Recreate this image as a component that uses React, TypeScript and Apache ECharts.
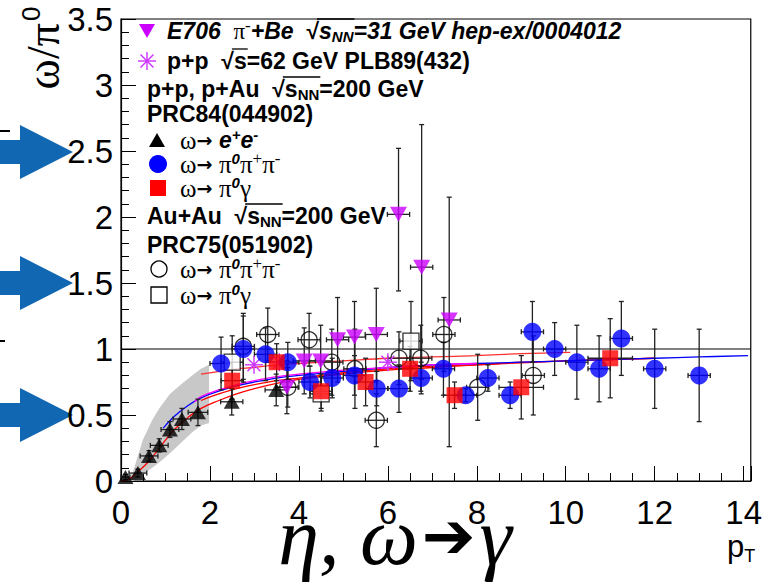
import React, { useEffect, useRef } from 'react';
import * as echarts from 'echarts';

// ---------- data ----------
const xTickValues = [0, 2, 4, 6, 8, 10, 12, 14];
const yTickValues = [0, 0.5, 1, 1.5, 2, 2.5, 3, 3.5];

// [pT, ratio, ±ex, -ey, +ey]
const ppEE = [
  [0.1, 0.03, 0.1, 0.02, 0.02],
  [0.38, 0.06, 0.2, 0.03, 0.03],
  [0.63, 0.19, 0.2, 0.04, 0.04],
  [0.86, 0.27, 0.2, 0.05, 0.05],
  [1.1, 0.39, 0.2, 0.06, 0.06],
  [1.37, 0.47, 0.2, 0.08, 0.08],
  [1.73, 0.52, 0.22, 0.1, 0.1],
  [2.49, 0.6, 0.25, 0.1, 0.1],
  [3.49, 0.69, 0.25, 0.12, 0.12],
];
const pp3pi = [
  [2.25, 0.89, 0.25, 0.2, 0.2],
  [2.75, 1.0, 0.25, 0.25, 0.25],
  [3.25, 0.96, 0.25, 0.2, 0.2],
  [3.75, 0.9, 0.25, 0.15, 0.15],
  [4.25, 0.75, 0.25, 0.12, 0.12],
  [4.75, 0.78, 0.25, 0.15, 0.15],
  [5.25, 0.8, 0.25, 0.15, 0.15],
  [5.75, 0.7, 0.25, 0.13, 0.13],
  [6.25, 0.7, 0.25, 0.18, 0.18],
  [6.75, 0.78, 0.25, 0.12, 0.12],
  [7.25, 0.85, 0.25, 0.2, 0.2],
  [7.75, 0.65, 0.25, 0.05, 0.05],
  [8.25, 0.78, 0.25, 0.1, 0.1],
  [8.75, 0.65, 0.25, 0.1, 0.1],
  [9.25, 1.13, 0.25, 0.23, 0.23],
  [9.75, 1.0, 0.25, 0.2, 0.2],
  [10.25, 0.9, 0.25, 0.28, 0.28],
  [10.75, 0.85, 0.25, 0.25, 0.25],
  [11.25, 1.08, 0.25, 0.28, 0.28],
  [12.0, 0.85, 0.25, 0.3, 0.3],
  [13.0, 0.8, 0.25, 0.35, 0.35],
];
const ppGamma = [
  [2.5, 0.76, 0.25, 0.14, 0.14],
  [3.5, 0.9, 0.25, 0.14, 0.14],
  [4.5, 0.68, 0.25, 0.13, 0.13],
  [5.5, 0.75, 0.25, 0.18, 0.18],
  [6.5, 0.85, 0.25, 0.17, 0.17],
  [7.5, 0.65, 0.25, 0.1, 0.1],
  [9.0, 0.71, 0.5, 0.24, 0.24],
  [11.0, 0.93, 0.5, 0.3, 0.3],
];
const e706 = [
  [3.73, 0.71, 0.25, 0.2, 0.2],
  [4.12, 0.91, 0.25, 0.25, 0.25],
  [4.49, 0.91, 0.25, 0.27, 0.27],
  [4.87, 1.07, 0.25, 0.32, 0.32],
  [5.25, 1.09, 0.25, 0.27, 0.27],
  [5.74, 1.11, 0.25, 0.35, 0.35],
  [6.24, 2.02, 0.25, 0.58, 0.5],
  [6.76, 1.62, 0.25, 0.85, 1.08],
  [7.38, 1.22, 0.25, 0.96, 0.93],
];
const pp62 = [
  [2.99, 0.88],
  [3.56, 0.9],
  [6.0, 0.9],
];
const auau3pi = [
  [2.75, 1.02, 0.25, 0.25, 0.25],
  [3.3, 1.11, 0.25, 0.2, 0.2],
  [3.75, 0.71, 0.25, 0.15, 0.15],
  [4.23, 1.07, 0.25, 0.2, 0.2],
  [4.74, 0.9, 0.25, 0.25, 0.25],
  [5.26, 0.85, 0.25, 0.3, 0.3],
  [5.74, 0.46, 0.25, 0.2, 0.2],
  [6.25, 0.93, 0.25, 0.2, 0.2],
  [6.74, 0.93, 0.25, 0.25, 0.25],
  [7.26, 1.11, 0.25, 0.28, 0.28],
  [8.02, 0.71, 0.25, 0.25, 0.25],
  [9.27, 0.8, 0.25, 0.3, 0.3],
];
const auauGamma = [
  [2.5, 0.9, 0.25, 0.2, 0.2],
  [4.5, 0.66, 0.25, 0.13, 0.13],
  [6.52, 1.06, 0.25, 0.3, 0.3],
];

// systematic band (ω→e+e-)
const bandX = [0.1, 0.27, 0.49, 0.7, 0.86, 1.1, 1.38, 1.6, 1.8, 1.98];
const bandHi = [0.0, 0.07, 0.31, 0.46, 0.55, 0.66, 0.74, 0.8, 0.85, 0.88];
const bandLo = [0.0, 0.0, 0.05, 0.1, 0.14, 0.21, 0.3, 0.37, 0.42, 0.44];

// fit curves
const fitRedMainX = [0, 0.1, 0.2, 0.3, 0.45, 0.6, 0.8, 1.0, 1.2, 1.5, 1.8, 2.2, 2.6, 3.0, 3.5, 4, 5, 6, 7, 8, 9, 10, 11, 12];
const fitRedMainY = [0, 0.005, 0.02, 0.045, 0.09, 0.14, 0.22, 0.31, 0.39, 0.48, 0.55, 0.61, 0.66, 0.7, 0.74, 0.77, 0.81, 0.84, 0.86, 0.88, 0.895, 0.91, 0.92, 0.93];
const fitBlueX = [0.95, 1.2, 1.5, 1.8, 2.2, 2.6, 3, 3.5, 4, 5, 6, 7, 8, 9, 10, 11, 12, 13, 14.1];
const fitBlueY = [0.4, 0.49, 0.57, 0.63, 0.68, 0.72, 0.75, 0.78, 0.8, 0.83, 0.86, 0.88, 0.89, 0.9, 0.91, 0.92, 0.93, 0.94, 0.95];
const fitMagentaX = [1.65, 1.8, 2.2, 2.6, 3, 3.5, 4, 5, 6, 7, 8];
const fitMagentaY = [0.6, 0.64, 0.69, 0.73, 0.76, 0.79, 0.81, 0.84, 0.86, 0.88, 0.89];
const fitRedMidX = [1.8, 2.2, 2.6, 3, 3.5, 4, 5, 6, 7, 8, 9, 10, 11, 12];
const fitRedMidY = [0.61, 0.66, 0.7, 0.73, 0.76, 0.78, 0.82, 0.85, 0.87, 0.88, 0.9, 0.91, 0.92, 0.93];
const fitRedUpX = [1.8, 2.2, 2.6, 3, 3.5, 4, 5, 6, 7, 8, 9, 10.1];
const fitRedUpY = [0.81, 0.83, 0.85, 0.86, 0.88, 0.89, 0.91, 0.93, 0.94, 0.95, 0.965, 0.975];

const unityLine = [[0, 1], [14.16, 1]];

const X_MAX = 14.16;

const zip = (xs: number[], ys: number[]) => xs.map((x, i) => [x, ys[i]]);

const errRender = (params: any, api: any) => {
  const x = api.value(0), y = api.value(1), ex = api.value(2), el = api.value(3), eh = api.value(4);
  const l = api.coord([x - ex, y]);
  const r = api.coord([x + ex, y]);
  const t = api.coord([x, y + eh]);
  const b = api.coord([x, y - el]);
  const cap = 2.5;
  const st = { stroke: '#222', lineWidth: 1.3 };
  const children: any[] = [];
  if (ex > 0) {
    children.push({ type: 'line', shape: { x1: l[0], y1: l[1], x2: r[0], y2: r[1] }, style: st });
    children.push({ type: 'line', shape: { x1: l[0], y1: l[1] - cap, x2: l[0], y2: l[1] + cap }, style: st });
    children.push({ type: 'line', shape: { x1: r[0], y1: r[1] - cap, x2: r[0], y2: r[1] + cap }, style: st });
  }
  if (el > 0 || eh > 0) {
    children.push({ type: 'line', shape: { x1: t[0], y1: t[1], x2: b[0], y2: b[1] }, style: st });
    children.push({ type: 'line', shape: { x1: t[0] - cap, y1: t[1], x2: t[0] + cap, y2: t[1] }, style: st });
    children.push({ type: 'line', shape: { x1: b[0] - cap, y1: b[1], x2: b[0] + cap, y2: b[1] }, style: st });
  }
  return { type: 'group', children };
};

const errSeries = (data: number[][]) => ({
  type: 'custom',
  renderItem: errRender,
  data,
  encode: { x: 0, y: 1 },
  z: 3,
  silent: true,
});

const STAR = '#cc33ff';
const starRender = (params: any, api: any) => {
  const c = api.coord([api.value(0), api.value(1)]);
  const a = 9;
  const d = a * 0.72;
  const st = { stroke: STAR, lineWidth: 1.4 };
  return {
    type: 'group',
    children: [
      { type: 'line', shape: { x1: c[0] - a, y1: c[1], x2: c[0] + a, y2: c[1] }, style: st },
      { type: 'line', shape: { x1: c[0], y1: c[1] - a, x2: c[0], y2: c[1] + a }, style: st },
      { type: 'line', shape: { x1: c[0] - d, y1: c[1] - d, x2: c[0] + d, y2: c[1] + d }, style: st },
      { type: 'line', shape: { x1: c[0] - d, y1: c[1] + d, x2: c[0] + d, y2: c[1] - d }, style: st },
    ],
  };
};

const bandRender = (params: any, api: any) => {
  const pts: number[][] = [];
  bandX.forEach((x, i) => pts.push(api.coord([x, bandHi[i]])));
  for (let i = bandX.length - 1; i >= 0; i--) pts.push(api.coord([bandX[i], bandLo[i]]));
  return { type: 'polygon', shape: { points: pts }, style: { fill: '#c8c8c8' } };
};

const fitLine = (xs: number[], ys: number[], color: string) => ({
  type: 'line',
  data: zip(xs, ys),
  showSymbol: false,
  smooth: 0.4,
  lineStyle: { color, width: 1.3 },
  z: 2,
  silent: true,
});

// ---------- legend text styles ----------
const SANS = 'Liberation Sans';
const SERIF = 'Liberation Serif';
const FS = 23;
const rich: any = {
  b: { fontFamily: SANS, fontWeight: 'bold', fontSize: FS, fill: '#000' },
  bi: { fontFamily: SANS, fontWeight: 'bold', fontStyle: 'italic', fontSize: FS, fill: '#000' },
  sub: { fontFamily: SANS, fontWeight: 'bold', fontSize: 15, fill: '#000', padding: [11, 0, 0, 0] },
  subi: { fontFamily: SANS, fontWeight: 'bold', fontStyle: 'italic', fontSize: 15, fill: '#000', padding: [11, 0, 0, 0] },
  supi: { fontFamily: SANS, fontWeight: 'bold', fontStyle: 'italic', fontSize: 15, fill: '#000', padding: [0, 0, 12, 0] },
  sups: { fontFamily: SERIF, fontSize: 17, fill: '#000', padding: [0, 0, 12, 0] },
  g: { fontFamily: SERIF, fontSize: 25, fill: '#000' },
  gi: { fontFamily: SERIF, fontSize: 23, fill: '#000' },
  arr: { fontFamily: 'DejaVu Sans', fontWeight: 'bold', fontSize: 19, fill: '#000' },
};

type Tok = [string, string];
const fontOf = (s: string) => {
  const r = rich[s];
  return `${r.fontStyle || 'normal'} ${r.fontWeight || 'normal'} ${r.fontSize}px "${r.fontFamily}"`;
};

const legendLines: { x: number; y: number; toks: Tok[]; bar?: [number, number] }[] = [
  { x: 167, y: 31, toks: [['bi', 'E706  '], ['gi', 'π'], ['sups', '-'], ['bi', '+Be  '], ['b', '√'], ['bi', 's'], ['subi', 'NN'], ['bi', '=31 GeV hep-ex/0004012']], bar: [5, 6] },
  { x: 167, y: 61, toks: [['b', 'p+p  '], ['b', '√'], ['b', 's'], ['b', '=62 GeV PLB89(432)']], bar: [2, 2] },
  { x: 147, y: 89, toks: [['b', 'p+p, p+Au  '], ['b', '√'], ['b', 's'], ['sub', 'NN'], ['b', '=200 GeV']], bar: [2, 3] },
  { x: 147, y: 114, toks: [['b', 'PRC84(044902)']] },
  { x: 180, y: 140, toks: [['g', 'ω'], ['arr', '→ '], ['bi', 'e'], ['supi', '+'], ['bi', 'e'], ['supi', '-']] },
  { x: 180, y: 164, toks: [['g', 'ω'], ['arr', '→ '], ['g', 'π'], ['supi', '0'], ['g', 'π'], ['sups', '+'], ['g', 'π'], ['sups', '-']] },
  { x: 180, y: 188, toks: [['g', 'ω'], ['arr', '→ '], ['g', 'π'], ['supi', '0'], ['g', 'γ']] },
  { x: 147, y: 216, toks: [['b', 'Au+Au  '], ['b', '√'], ['b', 's'], ['sub', 'NN'], ['b', '=200 GeV']], bar: [2, 3] },
  { x: 147, y: 245, toks: [['b', 'PRC75(051902)']] },
  { x: 180, y: 269, toks: [['g', 'ω'], ['arr', '→ '], ['g', 'π'], ['supi', '0'], ['g', 'π'], ['sups', '+'], ['g', 'π'], ['sups', '-']] },
  { x: 180, y: 295, toks: [['g', 'ω'], ['arr', '→ '], ['g', 'π'], ['supi', '0'], ['g', 'γ']] },
];

const arrow = (cy: number) => ({
  type: 'polygon',
  silent: true,
  shape: {
    points: [[0, cy - 12], [20, cy - 12], [20, cy - 27], [73, cy], [20, cy + 27], [20, cy + 12], [0, cy + 12]],
  },
  style: { fill: '#1167b1' },
});

const triPts = (cx: number, cy: number, down: boolean) =>
  down
    ? [[cx - 8, cy - 7], [cx + 8, cy - 7], [cx, cy + 7]]
    : [[cx - 8, cy + 7], [cx + 8, cy + 7], [cx, cy - 7]];

const App: React.FC = () => {
  const ref = useRef<HTMLDivElement>(null);
  useEffect(() => {
    if (!ref.current) return;
    const chart = echarts.init(ref.current, null, { renderer: 'svg' });
    const ctx = document.createElement('canvas').getContext('2d') as CanvasRenderingContext2D;
    const measure = (s: string, t: string) => {
      ctx.font = fontOf(s);
      return ctx.measureText(t).width;
    };
    const legendGraphics: any[] = [];
    legendLines.forEach((ln) => {
      legendGraphics.push({
        type: 'text', x: ln.x, y: ln.y, silent: true,
        style: {
          text: ln.toks.map(([s, t]) => `{${s}|${t}}`).join(''),
          rich, align: 'left', verticalAlign: 'middle', textAlign: 'left', textVerticalAlign: 'middle',
        },
      });
      if (ln.bar) {
        let x = ln.x;
        let x0 = 0, x1 = 0;
        ln.toks.forEach(([s, t], i) => {
          const w = measure(s, t);
          if (i === ln.bar![0]) x0 = x;
          if (i === ln.bar![1]) x1 = x + w;
          x += w;
        });
        const yb = ln.y - 12;
        legendGraphics.push({ type: 'line', silent: true, shape: { x1: x0 - 2, y1: yb, x2: x1 + 1, y2: yb }, style: { stroke: '#000', lineWidth: 1.3 } });
      }
    });

    const st = { stroke: STAR, lineWidth: 1.4 };
    const option: any = {
      animation: false,
      backgroundColor: '#fff',
      grid: { left: 121, right: 5, top: 19, bottom: 107, show: true, borderColor: '#000', borderWidth: 1.2, backgroundColor: 'transparent' },
      xAxis: [
        {
          type: 'value', min: 0, max: X_MAX, interval: 2, position: 'bottom',
          axisLine: { show: true, lineStyle: { color: '#000', width: 1.2 } },
          axisTick: { show: true, inside: true, length: 15, lineStyle: { color: '#000', width: 1 } },
          axisLabel: {
            show: true, margin: 18, fontFamily: SANS, fontSize: 33, lineHeight: 26, color: '#000',
            formatter: (v: number) => (xTickValues.some((t) => Math.abs(t - v) < 1e-6) ? String(v) : ''),
          },
          splitLine: { show: false },
        },
        {
          type: 'value', min: 0, max: X_MAX, interval: 0.5, position: 'bottom', gridIndex: 0,
          axisLine: { show: false },
          axisTick: { show: true, inside: true, length: 8, lineStyle: { color: '#000', width: 1 } },
          axisLabel: { show: false },
          splitLine: { show: false },
        },
      ],
      yAxis: {
        type: 'value', min: 0, max: 3.5, interval: 0.5,
        axisLine: { show: true, lineStyle: { color: '#000', width: 1.2 } },
        axisTick: { show: true, inside: true, length: 15, lineStyle: { color: '#000', width: 1 } },
        minorTick: { show: true, splitNumber: 5, length: 8, lineStyle: { color: '#000', width: 1 } },
        axisLabel: {
          show: true, margin: 8, fontFamily: SANS, fontSize: 33, lineHeight: 28, color: '#000',
          formatter: (v: number) => (yTickValues.some((t) => Math.abs(t - v) < 1e-6) ? String(v) : ''),
        },
        splitLine: { show: false },
      },
      series: [
        { type: 'custom', renderItem: bandRender, data: [[0, 0]], encode: { x: 0, y: 1 }, z: 1, silent: true },
        fitLine(fitRedMainX, fitRedMainY, '#ff0000'),
        fitLine(fitRedMidX, fitRedMidY, '#ff0000'),
        fitLine(fitBlueX, fitBlueY, '#0000ff'),
        fitLine(fitMagentaX, fitMagentaY, '#ff00ff'),
        fitLine(fitRedUpX, fitRedUpY, '#ff3030'),
        { type: 'line', data: unityLine, showSymbol: false, lineStyle: { color: '#000', width: 1.2 }, z: 2, silent: true },
        errSeries(ppEE),
        errSeries(pp3pi),
        errSeries(ppGamma),
        errSeries(e706),
        errSeries(auau3pi),
        errSeries(auauGamma),
        { type: 'scatter', data: auauGamma.map((d) => [d[0], d[1]]), symbol: 'rect', symbolSize: 16, itemStyle: { color: '#fff', borderColor: '#000', borderWidth: 1.3 }, z: 4, silent: true },
        { type: 'scatter', data: auau3pi.map((d) => [d[0], d[1]]), symbol: 'circle', symbolSize: 16, itemStyle: { color: 'rgba(0,0,0,0)', borderColor: '#000', borderWidth: 1.3 }, z: 4, silent: true },
        { type: 'scatter', data: ppEE.map((d) => [d[0], d[1]]), symbol: 'triangle', symbolSize: [16, 14], itemStyle: { color: '#000' }, z: 5, silent: true },
        { type: 'scatter', data: pp3pi.map((d) => [d[0], d[1]]), symbol: 'circle', symbolSize: 18, itemStyle: { color: '#0000ff' }, z: 5, silent: true },
        { type: 'scatter', data: ppGamma.map((d) => [d[0], d[1]]), symbol: 'rect', symbolSize: 16, itemStyle: { color: '#ff0000' }, z: 5, silent: true },
        { type: 'scatter', data: e706.map((d) => [d[0], d[1]]), symbol: 'triangle', symbolRotate: 180, symbolSize: [17, 15], itemStyle: { color: '#cc00ff' }, z: 5, silent: true },
        { type: 'custom', renderItem: starRender, data: pp62, encode: { x: 0, y: 1 }, z: 5, silent: true },
      ],
      graphic: [
        arrow(152), arrow(283), arrow(415),
        { type: 'line', silent: true, shape: { x1: 0, y1: 131, x2: 10, y2: 131 }, style: { stroke: '#000', lineWidth: 2 } },
        { type: 'line', silent: true, shape: { x1: 0, y1: 341, x2: 5, y2: 341 }, style: { stroke: '#000', lineWidth: 2 } },
        // y-axis title
        {
          type: 'text', x: 43, y: 48, rotation: Math.PI / 2, silent: true,
          style: {
            text: '{g|ω/π}{s|0}', align: 'center', verticalAlign: 'middle', textAlign: 'center', textVerticalAlign: 'middle',
            rich: { g: { fontFamily: SERIF, fontSize: 46, fill: '#000' }, s: { fontFamily: SANS, fontSize: 26, fill: '#000', padding: [0, 0, 24, 2] } },
          },
        },
        // x-axis title pT
        {
          type: 'text', x: 727, y: 546, silent: true,
          style: {
            text: '{p|p}{t|T}', align: 'left', verticalAlign: 'middle', textAlign: 'left', textVerticalAlign: 'middle',
            rich: { p: { fontFamily: SANS, fontSize: 31, fill: '#000' }, t: { fontFamily: SANS, fontSize: 18, fill: '#000', padding: [20, 0, 0, 0] } },
          },
        },
        // big bottom text
        {
          type: 'text', x: 395, y: 536, silent: true,
          style: {
            text: '{g|η, ω}{a|➔}{g|γ}', align: 'center', verticalAlign: 'middle', textAlign: 'center', textVerticalAlign: 'middle',
            rich: {
              g: { fontFamily: SERIF, fontStyle: 'italic', fontSize: 82, lineHeight: 26, fill: '#000' },
              a: { fontFamily: 'DejaVu Sans', fontWeight: 'bold', fontSize: 64, lineHeight: 26, fill: '#000', padding: [0, 4, 0, 4] },
            },
          },
        },
        // legend markers
        { type: 'polygon', silent: true, shape: { points: triPts(147, 31, true) }, style: { fill: '#cc00ff' } },
        { type: 'line', silent: true, shape: { x1: 138, y1: 61, x2: 156, y2: 61 }, style: st },
        { type: 'line', silent: true, shape: { x1: 147, y1: 52, x2: 147, y2: 70 }, style: st },
        { type: 'line', silent: true, shape: { x1: 140.5, y1: 54.5, x2: 153.5, y2: 67.5 }, style: st },
        { type: 'line', silent: true, shape: { x1: 140.5, y1: 67.5, x2: 153.5, y2: 54.5 }, style: st },
        { type: 'polygon', silent: true, shape: { points: triPts(157, 140, false) }, style: { fill: '#000' } },
        { type: 'circle', silent: true, shape: { cx: 158, cy: 164, r: 9 }, style: { fill: '#0000ff' } },
        { type: 'rect', silent: true, shape: { x: 150, y: 180, width: 16, height: 16 }, style: { fill: '#ff0000' } },
        { type: 'circle', silent: true, shape: { cx: 159, cy: 269, r: 8 }, style: { fill: 'none', stroke: '#000', lineWidth: 1.3 } },
        { type: 'rect', silent: true, shape: { x: 151, y: 287, width: 16, height: 16 }, style: { fill: 'none', stroke: '#000', lineWidth: 1.3 } },
        ...legendGraphics,
      ],
    };
    chart.setOption(option);
    return () => chart.dispose();
  }, []);
  return <div ref={ref} style={{ position: 'fixed', left: 0, top: 0, width: 765, height: 588, background: '#fff' }} />;
};

export default App;
